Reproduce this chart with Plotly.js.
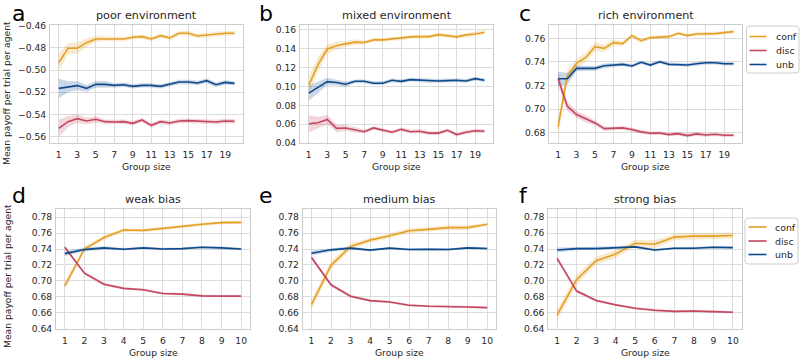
<!DOCTYPE html>
<html>
<head>
<meta charset="utf-8">
<script src="https://cdn.plot.ly/plotly-3.0.1.min.js"></script>
<style>html,body{margin:0;padding:0;background:#fff}#chart{width:800px;height:359px}</style>
</head>
<body>
<div id="chart"></div>
<script>
// ---- data ----
const groupTop = [1,2,3,4,5,6,7,8,9,10,11,12,13,14,15,16,17,18,19,20];
const groupBottom = [1,2,3,4,5,6,7,8,9,10];
const seriesNames = ["conf","disc","unb"];
const panelTitles = ["poor environment","mixed environment","rich environment","weak bias","medium bias","strong bias"];
const panelLetters = ["a","b","c","d","e","f"];

// a: poor environment
const poorConf = [-0.4933,-0.4804,-0.4804,-0.4753,-0.4720,-0.4717,-0.4720,-0.4720,-0.4705,-0.4699,-0.4720,-0.4690,-0.4711,-0.4669,-0.4669,-0.4693,-0.4684,-0.4675,-0.4669,-0.4669];
const poorConfCI = [0.008,0.005,0.005,0.004,0.003,0.002,0.002,0.002,0.002,0.002,0.002,0.002,0.002,0.002,0.002,0.002,0.002,0.002,0.002,0.002];
const poorDisc = [-0.5525,-0.5465,-0.5438,-0.5459,-0.5444,-0.5465,-0.5468,-0.5465,-0.5480,-0.5450,-0.5498,-0.5465,-0.5477,-0.5459,-0.5456,-0.5459,-0.5462,-0.5468,-0.5459,-0.5462];
const poorDiscCI = [0.008,0.005,0.004,0.003,0.003,0.002,0.002,0.002,0.002,0.002,0.002,0.002,0.002,0.002,0.002,0.002,0.002,0.002,0.002,0.002];
const poorUnb = [-0.5165,-0.5150,-0.5140,-0.5165,-0.5129,-0.5129,-0.5138,-0.5132,-0.5147,-0.5138,-0.5138,-0.5147,-0.5129,-0.5108,-0.5108,-0.5117,-0.5096,-0.5132,-0.5111,-0.5120];
const poorUnbCI = [0.009,0.005,0.004,0.003,0.003,0.003,0.002,0.002,0.002,0.002,0.002,0.002,0.002,0.002,0.002,0.002,0.002,0.002,0.002,0.002];

// b: mixed environment
const mixedConf = [0.1014,0.1233,0.1398,0.1432,0.1453,0.1471,0.1467,0.1495,0.1495,0.1506,0.1509,0.1527,0.1530,0.1530,0.1551,0.1541,0.1527,0.1548,0.1558,0.1576];
const mixedConfCI = [0.010,0.008,0.005,0.004,0.003,0.003,0.002,0.002,0.002,0.002,0.002,0.002,0.002,0.002,0.002,0.002,0.002,0.002,0.002,0.002];
const mixedDisc = [0.0605,0.0615,0.0650,0.0555,0.0560,0.0540,0.0520,0.0560,0.0535,0.0515,0.0545,0.0520,0.0525,0.0505,0.0505,0.0535,0.0490,0.0515,0.0530,0.0525];
const mixedDiscCI = [0.009,0.006,0.005,0.004,0.003,0.003,0.002,0.002,0.002,0.002,0.002,0.002,0.002,0.002,0.002,0.002,0.002,0.002,0.002,0.002];
const mixedUnb = [0.0930,0.0989,0.1052,0.1042,0.1024,0.1055,0.1055,0.1035,0.1035,0.1066,0.1055,0.1073,0.1066,0.1059,0.1059,0.1062,0.1066,0.1059,0.1083,0.1066];
const mixedUnbCI = [0.008,0.006,0.004,0.003,0.003,0.002,0.002,0.002,0.002,0.002,0.002,0.002,0.002,0.002,0.002,0.002,0.002,0.002,0.002,0.002];

// c: rich environment
const richConf = [0.6848,0.7279,0.7387,0.7438,0.7529,0.7515,0.7563,0.7555,0.7623,0.7580,0.7606,0.7611,0.7614,0.7643,0.7623,0.7637,0.7637,0.7640,0.7648,0.7657];
const richConfCI = [0.008,0.005,0.004,0.004,0.004,0.003,0.003,0.002,0.002,0.002,0.0015,0.0015,0.0015,0.0015,0.0015,0.0015,0.0015,0.0015,0.0015,0.0015];
const richDisc = [0.7257,0.7024,0.6953,0.6916,0.6882,0.6834,0.6834,0.6840,0.6826,0.6806,0.6794,0.6797,0.6783,0.6791,0.6774,0.6789,0.6780,0.6786,0.6777,0.6777];
const richDiscCI = [0.006,0.004,0.003,0.003,0.002,0.002,0.0015,0.0015,0.0015,0.0015,0.0015,0.0015,0.0015,0.0015,0.0015,0.0015,0.0015,0.0015,0.0015,0.0015];
const richUnb = [0.7257,0.7257,0.7345,0.7345,0.7345,0.7367,0.7373,0.7379,0.7365,0.7396,0.7373,0.7401,0.7379,0.7379,0.7373,0.7384,0.7393,0.7393,0.7384,0.7384];
const richUnbCI = [0.006,0.005,0.0025,0.002,0.002,0.002,0.0015,0.0015,0.0015,0.0015,0.0015,0.0015,0.0015,0.0015,0.0015,0.0015,0.0015,0.0015,0.0015,0.0015];

// d: weak bias
const weakConf = [0.6935,0.7401,0.7545,0.7639,0.7635,0.7656,0.7685,0.7711,0.7732,0.7736];
const weakConfCI = [0.005,0.003,0.003,0.002,0.002,0.002,0.002,0.002,0.002,0.002];
const weakDisc = [0.7422,0.7096,0.6956,0.6905,0.6888,0.6841,0.6833,0.6811,0.6807,0.6807];
const weakDiscCI = [0.003,0.002,0.002,0.0015,0.0015,0.0015,0.0015,0.0015,0.0015,0.0015];
const weakUnb = [0.7342,0.7393,0.7414,0.7397,0.7414,0.7401,0.7405,0.7422,0.7414,0.7401];
const weakUnbCI = [0.003,0.0025,0.002,0.0015,0.0015,0.0015,0.0015,0.0015,0.0015,0.0015];

// e: medium bias
const mediumConf = [0.6700,0.7195,0.7432,0.7512,0.7567,0.7630,0.7648,0.7669,0.7669,0.7711];
const mediumConfCI = [0.006,0.005,0.004,0.003,0.003,0.003,0.003,0.003,0.003,0.002];
const mediumDisc = [0.7293,0.6950,0.6806,0.6751,0.6734,0.6692,0.6680,0.6680,0.6671,0.6663];
const mediumDiscCI = [0.003,0.002,0.002,0.0015,0.0015,0.0015,0.0015,0.0015,0.0015,0.0015];
const mediumUnb = [0.7348,0.7390,0.7411,0.7386,0.7411,0.7394,0.7398,0.7394,0.7415,0.7407];
const mediumUnbCI = [0.003,0.002,0.002,0.0015,0.0015,0.0015,0.0015,0.0015,0.0015,0.0015];

// f: strong bias
const strongConf = [0.6570,0.7015,0.7253,0.7338,0.7473,0.7461,0.7550,0.7562,0.7562,0.7571];
const strongConfCI = [0.007,0.006,0.005,0.005,0.004,0.005,0.004,0.004,0.004,0.004];
const strongDisc = [0.7282,0.6871,0.6752,0.6697,0.6654,0.6629,0.6616,0.6620,0.6612,0.6604];
const strongDiscCI = [0.003,0.002,0.002,0.0015,0.0015,0.0015,0.0015,0.0015,0.0015,0.0015];
const strongUnb = [0.7388,0.7405,0.7405,0.7418,0.7427,0.7388,0.7410,0.7410,0.7422,0.7418];
const strongUnbCI = [0.003,0.002,0.002,0.0015,0.0015,0.0015,0.0015,0.0015,0.0015,0.0015];

// ---- styling / layout helpers ----
const colors = {conf:"#E5A024", disc:"#C4465F", unb:"#0E4A8C"};
const bands = {conf:"rgba(229,160,36,0.22)", disc:"rgba(196,70,95,0.22)", unb:"rgba(14,74,140,0.22)"};

const panels = [
  {x:groupTop, s:{conf:[poorConf,poorConfCI], disc:[poorDisc,poorDiscCI], unb:[poorUnb,poorUnbCI]}},
  {x:groupTop, s:{conf:[mixedConf,mixedConfCI], disc:[mixedDisc,mixedDiscCI], unb:[mixedUnb,mixedUnbCI]}},
  {x:groupTop, s:{conf:[richConf,richConfCI], disc:[richDisc,richDiscCI], unb:[richUnb,richUnbCI]}},
  {x:groupBottom, s:{conf:[weakConf,weakConfCI], disc:[weakDisc,weakDiscCI], unb:[weakUnb,weakUnbCI]}},
  {x:groupBottom, s:{conf:[mediumConf,mediumConfCI], disc:[mediumDisc,mediumDiscCI], unb:[mediumUnb,mediumUnbCI]}},
  {x:groupBottom, s:{conf:[strongConf,strongConfCI], disc:[strongDisc,strongDiscCI], unb:[strongUnb,strongUnbCI]}}
];

const W = 800, H = 359;
const boxes = [ // pixel boxes [x0,x1,y0,y1]
  [50,243.3,25,143.3],[300,493.3,25,143.3],[549.3,742.3,25,143.3],
  [56,250,209.3,329.3],[302.7,496,209.3,329.3],[548.3,741.7,209.3,329.3]
];
const yRanges = [[-0.566,-0.4594],[0.0397,0.1653],[0.6709,0.7713],[0.639,0.790],[0.639,0.790],[0.639,0.790]];
const yTicks = [
  [-0.56,-0.54,-0.52,-0.50,-0.48,-0.46],
  [0.04,0.06,0.08,0.10,0.12,0.14,0.16],
  [0.68,0.70,0.72,0.74,0.76],
  [0.64,0.66,0.68,0.70,0.72,0.74,0.76,0.78],
  [0.64,0.66,0.68,0.70,0.72,0.74,0.76,0.78],
  [0.64,0.66,0.68,0.70,0.72,0.74,0.76,0.78]
];
const xTicksTop = [1,3,5,7,9,11,13,15,17,19];
const FONT = "DejaVu Sans, sans-serif";
const TXT = "#262626";
const TICK = 9.2, LAB = 9.2, TITLE = 11.2, LEG = 9.4;

const traces = [];
panels.forEach((p, i) => {
  const xa = "x" + (i === 0 ? "" : i + 1), ya = "y" + (i === 0 ? "" : i + 1);
  seriesNames.forEach(name => {
    const [m, ci] = p.s[name];
    const up = m.map((v, k) => v + ci[k]);
    const lo = m.map((v, k) => v - ci[k]);
    traces.push({x: p.x.concat(p.x.slice().reverse()), y: up.concat(lo.slice().reverse()),
      type:"scatter", mode:"lines", fill:"toself", fillcolor:bands[name], line:{width:0, color:bands[name]},
      hoverinfo:"skip", showlegend:false, xaxis:xa, yaxis:ya});
  });
  seriesNames.forEach(name => {
    const [m] = p.s[name];
    traces.push({x:p.x, y:m, type:"scatter", mode:"lines", name:name, line:{color:colors[name], width:1.6},
      xaxis:xa, yaxis:ya, showlegend:false});
  });
});

const layout = {
  width:W, height:H, margin:{l:0,r:0,t:0,b:0}, paper_bgcolor:"#fff", plot_bgcolor:"#fff",
  font:{family:FONT, color:TXT, size:TICK}, showlegend:false, annotations:[], shapes:[]
};

panels.forEach((p, i) => {
  const [x0,x1,y0,y1] = boxes[i];
  const top = i < 3;
  const sfx = i === 0 ? "" : String(i + 1);
  layout["xaxis" + sfx] = {domain:[x0/W, x1/W], anchor:"y" + sfx,
    range: top ? [0.05, 20.95] : [0.55, 10.45],
    tickvals: top ? xTicksTop : groupBottom, ticktext: (top ? xTicksTop : groupBottom).map(String),
    showgrid:true, gridcolor:"#dcdcdc", gridwidth:1, zeroline:false, showline:true, linecolor:"#cccccc",
    mirror:true, ticks:"", ticklabelstandoff:3, tickfont:{size:TICK, color:TXT, family:FONT}, fixedrange:true};
  layout["yaxis" + sfx] = {domain:[1 - y1/H, 1 - y0/H], anchor:"x" + sfx, range: yRanges[i],
    tickvals: yTicks[i], ticktext: yTicks[i].map(v => (v < 0 ? "\u2212" : "") + Math.abs(v).toFixed(2)),
    showgrid:true, gridcolor:"#dcdcdc", gridwidth:1, zeroline:false, showline:true, linecolor:"#cccccc",
    mirror:true, ticks:"", ticklabelstandoff:1, tickfont:{size:TICK, color:TXT, family:FONT}, fixedrange:true};
  const cx = (x0 + x1) / 2 / W;
  layout.annotations.push({text:panelTitles[i], x:cx, y:1 - (y0 - 10)/H, xref:"paper", yref:"paper",
    xanchor:"center", yanchor:"middle", showarrow:false, font:{size:TITLE, color:TXT, family:FONT}});
  layout.annotations.push({text:"Group size", x:cx, y:1 - (y1 + 23)/H, xref:"paper", yref:"paper",
    xanchor:"center", yanchor:"middle", showarrow:false, font:{size:LAB, color:TXT, family:FONT}});
  const lx = [11, 258, 518, 11, 258, 518][i];
  layout.annotations.push({text:panelLetters[i], x:lx/W, y:1 - (top ? 13.5 : 195)/H, xref:"paper", yref:"paper",
    xanchor:"left", yanchor:"middle", showarrow:false, borderpad:0, font:{size:22, color:"#000", family:FONT}});
});
layout.annotations.push({text:"Mean payoff per trial per agent", x:7/W, y:1 - 93/H, xref:"paper", yref:"paper",
  xanchor:"center", yanchor:"middle", textangle:-90, showarrow:false, font:{size:LAB, color:TXT, family:FONT}});
layout.annotations.push({text:"Mean payoff per trial per agent", x:7/W, y:1 - 276/H, xref:"paper", yref:"paper",
  xanchor:"center", yanchor:"middle", textangle:-90, showarrow:false, font:{size:LAB, color:TXT, family:FONT}});

// custom legends (matplotlib-style compact box) for panels c and f
function addLegend(bx0, by0, bx1, by1, rowsY, lineX0, lineX1, textX) {
  const r = 3;
  const X = v => (v / W).toFixed(5), Y = v => (1 - v / H).toFixed(5);
  layout.shapes.push({type:"path", xref:"paper", yref:"paper",
    path:`M ${X(bx0 + r)} ${Y(by0)} L ${X(bx1 - r)} ${Y(by0)} Q ${X(bx1)} ${Y(by0)} ${X(bx1)} ${Y(by0 + r)} ` +
         `L ${X(bx1)} ${Y(by1 - r)} Q ${X(bx1)} ${Y(by1)} ${X(bx1 - r)} ${Y(by1)} L ${X(bx0 + r)} ${Y(by1)} ` +
         `Q ${X(bx0)} ${Y(by1)} ${X(bx0)} ${Y(by1 - r)} L ${X(bx0)} ${Y(by0 + r)} Q ${X(bx0)} ${Y(by0)} ${X(bx0 + r)} ${Y(by0)} Z`,
    line:{color:"#cccccc", width:1}, fillcolor:"rgba(255,255,255,0.85)", layer:"above"});
  seriesNames.forEach((name, k) => {
    const yy = 1 - rowsY[k] / H;
    layout.shapes.push({type:"line", xref:"paper", yref:"paper", x0:lineX0 / W, x1:lineX1 / W, y0:yy, y1:yy,
      line:{color:colors[name], width:1.6}, layer:"above"});
    layout.annotations.push({text:name, x:textX / W, y:yy, xref:"paper", yref:"paper", xanchor:"left",
      yanchor:"middle", showarrow:false, font:{size:LEG, color:TXT, family:FONT}});
  });
}
addLegend(746.5, 26, 799, 73, [36.5, 50.5, 64.5], 749.5, 766.5, 774);
addLegend(745, 218, 798, 264, [227, 241, 254.5], 748.5, 766.5, 773);

Plotly.newPlot("chart", traces, layout, {displayModeBar:false, staticPlot:true});
</script>
</body>
</html>
